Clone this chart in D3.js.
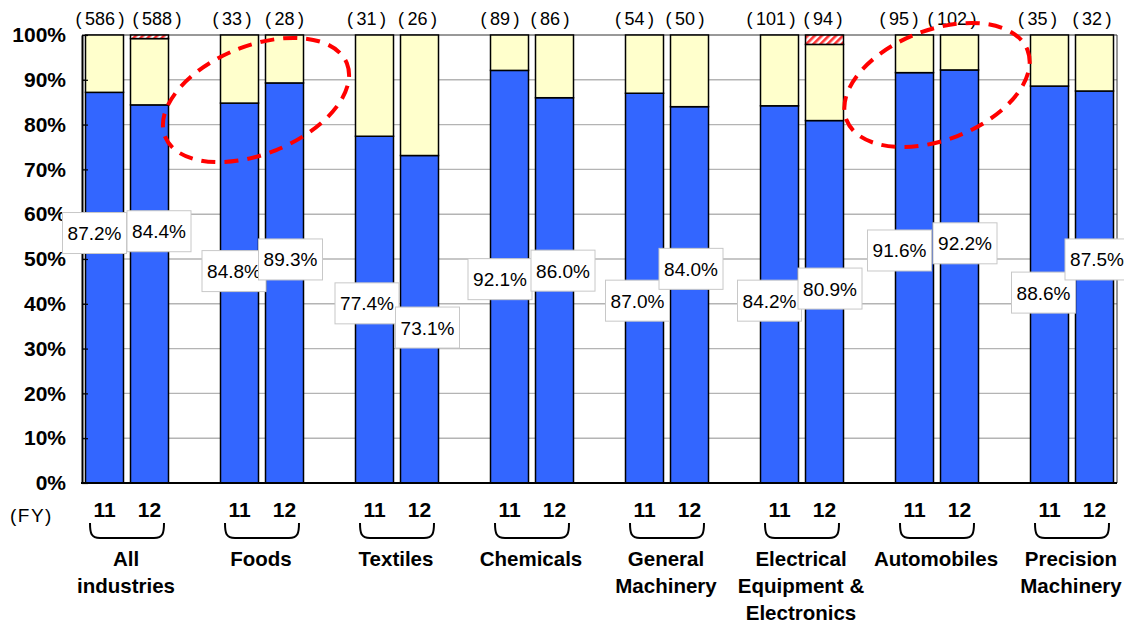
<!DOCTYPE html>
<html>
<head>
<meta charset="utf-8">
<script src="https://cdn.jsdelivr.net/npm/d3@7"></script>
<style>
  html, body { margin: 0; padding: 0; background: #fff; }
  svg { display: block; font-family: Arial, "Liberation Sans", Helvetica, sans-serif; }
</style>
</head>
<body>
<svg id="chart" width="1124" height="624"></svg>
<script>
// ---- data -------------------------------------------------------------
const categories = [
  ["All", "industries"],
  ["Foods"],
  ["Textiles"],
  ["Chemicals"],
  ["General", "Machinery"],
  ["Electrical", "Equipment &", "Electronics"],
  ["Automobiles"],
  ["Precision", "Machinery"]
];
const fiscalYears = ["11", "12"];

// share of firms answering "yes" (%)
const yes11 = [87.2, 84.8, 77.4, 92.1, 87.0, 84.2, 91.6, 88.6];
const yes12 = [84.4, 89.3, 73.1, 86.0, 84.0, 80.9, 92.2, 87.5];
// share of firms with no answer (%)
const noAnswer11 = [0, 0, 0, 0, 0, 0, 0, 0];
const noAnswer12 = [0.8, 0, 0, 0, 0, 2.1, 0, 0];
// number of responding firms
const firms11 = [586, 33, 31, 89, 54, 101, 95, 35];
const firms12 = [588, 28, 26, 86, 50, 94, 102, 32];

const yTicks = [0, 10, 20, 30, 40, 50, 60, 70, 80, 90, 100];

// ---- label placement (value boxes and firm counts) --------------------
const boxLevel11 = [55.8, 47.3, 40.1, 45.5, 40.7, 40.7, 51.9, 42.5];
const boxLevel12 = [56.2, 49.9, 34.7, 47.4, 47.8, 43.4, 53.5, 49.9];
const boxShift11 = [-10, -5.5, -7.5, -9.5, -7, -10, -15, -6];
const boxShift12 = [9.5, 6, 8, 8.5, 1.5, 5.5, 5.5, 2.5];
const countShift11 = [-4.5, -7.5, -8, -9.5, -10, -8.5, -15.5, -12];
const countShift12 = [7.5, 0, -2, -4.5, -4.5, -1.5, -7.5, -2.5];

// ---- build bar records ------------------------------------------------
const bars = [];
categories.forEach((c, g) => {
  [[yes11, noAnswer11, firms11, boxLevel11, boxShift11, countShift11],
   [yes12, noAnswer12, firms12, boxLevel12, boxShift12, countShift12]]
    .forEach((s, i) => {
      const yes = s[0][g], na = s[1][g];
      bars.push({
        key: "g" + g + "-" + fiscalYears[i], group: g, fy: fiscalYears[i],
        yes, other: 100 - yes - na, na, firms: s[2][g],
        boxLevel: s[3][g], boxShift: s[4][g], countShift: s[5][g]
      });
    });
});
// slot order: two fiscal years per category with an empty slot between categories
const slots = categories.flatMap((c, g) =>
  g < categories.length - 1
    ? ["g" + g + "-11", "g" + g + "-12", "g" + g + "-gap"]
    : ["g" + g + "-11", "g" + g + "-12"]);

// ---- scales -----------------------------------------------------------
const svg = d3.select("#chart");
const plotLeft = 82, plotRight = 1117, plotTop = 35, plotBottom = 483;

const x = d3.scaleBand().domain(slots).range([plotLeft, plotRight])
  .paddingInner(7 / 45).paddingOuter(3.5 / 45);
const y = d3.scaleLinear().domain([0, 100]).range([plotBottom, plotTop]);
const cx = d => x(d.key) + x.bandwidth() / 2;

const BLUE = "#3366FF", CREAM = "#FFFFCC";

// hatch pattern for the "no answer" segment
const defs = svg.append("defs");
const pat = defs.append("pattern").attr("id", "hatch")
  .attr("patternUnits", "userSpaceOnUse").attr("width", 5).attr("height", 5)
  .attr("patternTransform", "rotate(45)");
pat.append("rect").attr("width", 5).attr("height", 5).attr("fill", "#fff");
pat.append("rect").attr("width", 2.6).attr("height", 5).attr("fill", "#FF3333");

// ---- gridlines --------------------------------------------------------
svg.append("g").selectAll("line").data(yTicks.filter(t => t > 0)).join("line")
  .attr("x1", plotLeft).attr("x2", plotRight)
  .attr("y1", d => y(d)).attr("y2", d => y(d))
  .attr("stroke", t => t === 100 ? "#333" : "#B4B4B4")
  .attr("stroke-width", t => t === 100 ? 1 : 1.4);
svg.append("line").attr("x1", plotRight).attr("x2", plotRight)
  .attr("y1", plotTop).attr("y2", plotBottom)
  .attr("stroke", "#333").attr("stroke-width", 1);

// ---- stacked bars -----------------------------------------------------
const barG = svg.append("g").attr("stroke", "#000").attr("stroke-width", 1.5);
barG.selectAll(".yes").data(bars).join("rect").attr("class", "yes")
  .attr("x", d => x(d.key)).attr("width", x.bandwidth())
  .attr("y", d => y(d.yes)).attr("height", d => y(0) - y(d.yes))
  .attr("fill", BLUE);
barG.selectAll(".no").data(bars).join("rect").attr("class", "no")
  .attr("x", d => x(d.key)).attr("width", x.bandwidth())
  .attr("y", d => y(d.yes + d.other)).attr("height", d => y(d.yes) - y(d.yes + d.other))
  .attr("fill", CREAM);
barG.selectAll(".na").data(bars.filter(d => d.na > 0)).join("rect").attr("class", "na")
  .attr("x", d => x(d.key)).attr("width", x.bandwidth())
  .attr("y", d => y(100)).attr("height", d => y(d.yes + d.other) - y(100))
  .attr("fill", "url(#hatch)");

// ---- axes -------------------------------------------------------------
const yAxis = d3.axisLeft(y).tickValues(yTicks).tickFormat(d => d + "%")
  .tickSizeInner(-6).tickSizeOuter(0).tickPadding(16);
const ya = svg.append("g").attr("transform", `translate(${plotLeft},0)`).call(yAxis);
ya.select(".domain").attr("stroke", "#000").attr("stroke-width", 2);
ya.selectAll(".tick line").attr("stroke", "#000").attr("stroke-width", 1.2);
ya.selectAll(".tick text").attr("font-size", 21).attr("font-weight", "bold")
  .attr("fill", "#000").attr("font-family", "Arial, 'Liberation Sans', sans-serif");

svg.append("line").attr("x1", plotLeft - 1).attr("x2", plotRight)
  .attr("y1", plotBottom).attr("y2", plotBottom)
  .attr("stroke", "#000").attr("stroke-width", 2);

// ---- firm counts above bars -------------------------------------------
svg.append("g").selectAll("text").data(bars).join("text")
  .attr("x", d => cx(d) + d.countShift).attr("y", 25)
  .attr("text-anchor", "middle").attr("font-size", 18).attr("fill", "#000")
  .text(d => "(\u2009" + d.firms + "\u2009)");

// ---- value boxes -------------------------------------------------------
const boxW = 64, boxH = 41;
const lab = svg.append("g").selectAll("g").data(bars).join("g")
  .attr("transform", d => `translate(${cx(d) + d.boxShift},${y(d.boxLevel)})`);
lab.append("rect").attr("x", -boxW / 2).attr("y", -boxH / 2)
  .attr("width", boxW).attr("height", boxH)
  .attr("fill", "#fff").attr("stroke", "#C8C8C8").attr("stroke-width", 1);
lab.append("text").attr("text-anchor", "middle").attr("y", 7)
  .attr("font-size", 19).attr("fill", "#000")
  .text(d => d.yes.toFixed(1) + "%");

// ---- fiscal-year labels, brackets, category names ----------------------
svg.append("text").attr("x", 10).attr("y", 522).attr("font-size", 19)
  .attr("letter-spacing", 1.5).attr("fill", "#000").text("(FY)");

svg.append("g").selectAll("text").data(bars).join("text")
  .attr("x", d => cx(d)).attr("y", 517).attr("text-anchor", "middle")
  .attr("font-size", 21).attr("font-weight", "bold").attr("fill", "#000")
  .text(d => d.fy);

const groupCenter = g => (cx(bars[2 * g]) + cx(bars[2 * g + 1])) / 2;
svg.append("g").selectAll("path").data(categories).join("path")
  .attr("d", (c, g) => {
    const m = groupCenter(g), x0 = m - 37, x1 = m + 37, t = 523, b = 538;
    return `M${x0},${t} C${x0},${b - 5} ${x0 + 1},${b} ${x0 + 10},${b} ` +
           `L${x1 - 10},${b} C${x1 - 1},${b} ${x1},${b - 5} ${x1},${t}`;
  })
  .attr("fill", "none").attr("stroke", "#000").attr("stroke-width", 2);

const catText = svg.append("g").selectAll("text").data(categories).join("text")
  .attr("text-anchor", "middle").attr("font-size", 20.5).attr("font-weight", "bold")
  .attr("fill", "#000");
catText.selectAll("tspan").data((c, g) => c.map((line, k) => ({ line, k, g }))).join("tspan")
  .attr("x", d => groupCenter(d.g) - 1).attr("y", d => 566 + d.k * 27)
  .text(d => d.line);

// ---- highlight rings -------------------------------------------------
const rings = [
  { cx: 256, cy: 100, rx: 98, ry: 54, rot: -22 },
  { cx: 937, cy: 85, rx: 97, ry: 55, rot: -21 }
];
svg.append("g").selectAll("ellipse").data(rings).join("ellipse")
  .attr("transform", d => `translate(${d.cx},${d.cy}) rotate(${d.rot})`)
  .attr("rx", d => d.rx).attr("ry", d => d.ry)
  .attr("fill", "none").attr("stroke", "#FF0000").attr("stroke-width", 4)
  .attr("stroke-dasharray", "14 9");
</script>
</body>
</html>
